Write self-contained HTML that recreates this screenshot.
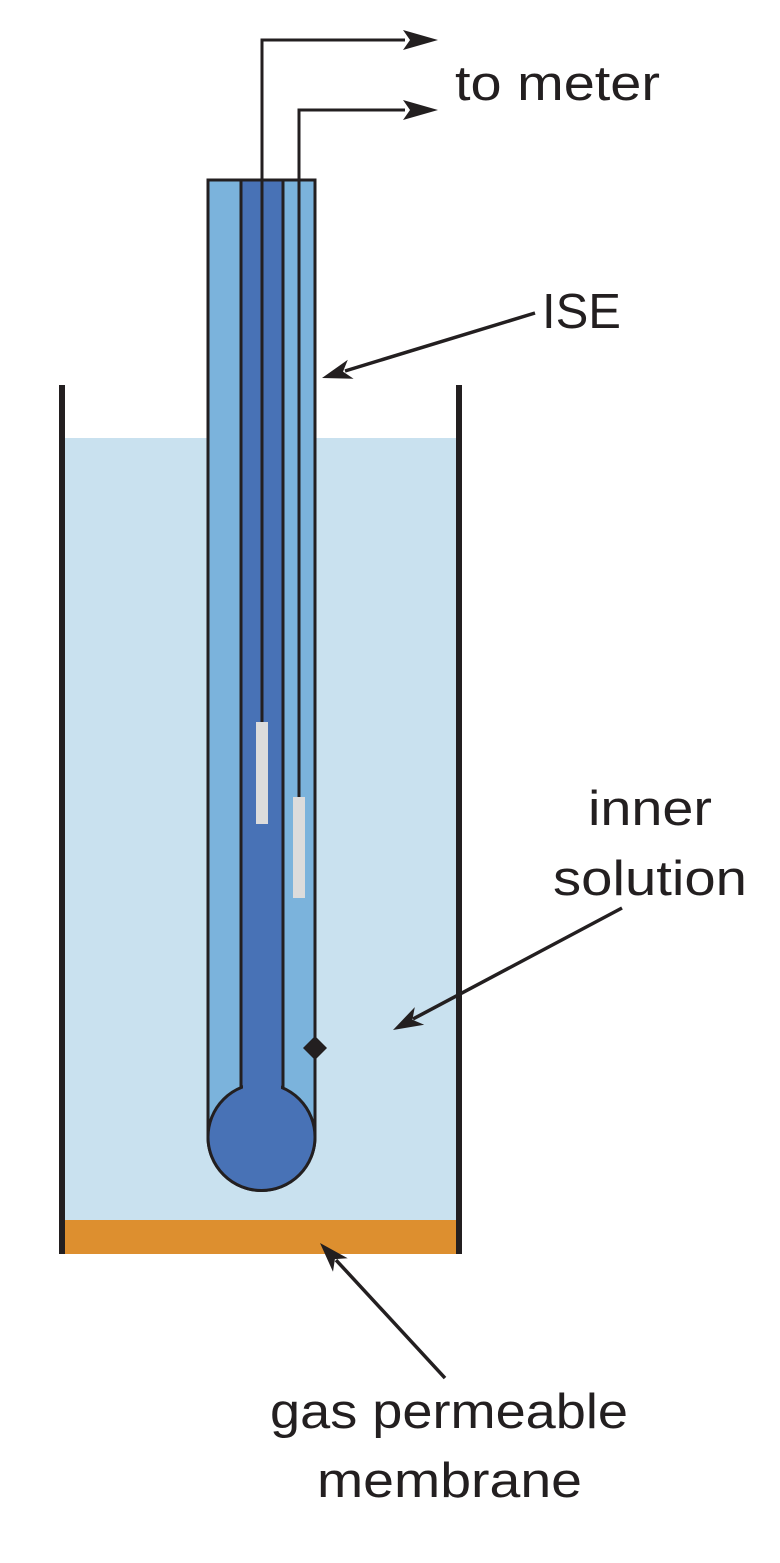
<!DOCTYPE html>
<html><head><meta charset="utf-8"><style>
html,body{margin:0;padding:0;background:#fff}
svg{display:block}
text{font-family:"Liberation Sans",sans-serif;fill:#231f20;font-size:49px}
</style></head><body>
<svg width="780" height="1563" viewBox="0 0 780 1563" xmlns="http://www.w3.org/2000/svg">
<rect x="64" y="438" width="394" height="782" fill="#c9e1ef"/>
<rect x="64" y="1220" width="394" height="34" fill="#dd8f2f"/>
<line x1="62" y1="385" x2="62" y2="1254" stroke="#231f20" stroke-width="6"/>
<line x1="459" y1="385" x2="459" y2="1254" stroke="#231f20" stroke-width="6"/>
<path d="M208,180 L315,180 L315,1137 A53.5,53.5 0 0 1 208,1137 Z" fill="#7bb3dc" stroke="#231f20" stroke-width="3"/>
<rect x="241" y="180" width="42" height="920" fill="#4872b6" stroke="#231f20" stroke-width="3"/>
<circle cx="261.5" cy="1137" r="53.5" fill="#4872b6" stroke="#231f20" stroke-width="3"/>
<rect x="243" y="1080" width="38" height="30" fill="#4872b6"/>
<polyline points="262,722 262,40 405,40" fill="none" stroke="#231f20" stroke-width="3"/>
<polyline points="299,797 299,110 405,110" fill="none" stroke="#231f20" stroke-width="3"/>
<polygon points="438,40 403,30 410,40 403,50" fill="#231f20"/>
<polygon points="438,110 403,100 410,110 403,120" fill="#231f20"/>
<rect x="256" y="722" width="12" height="102" fill="#dcdcdc"/>
<rect x="293" y="797" width="12" height="101" fill="#dcdcdc"/>
<polygon points="315,1036 327,1048 315,1060 303,1048" fill="#231f20"/>
<line x1="535" y1="313" x2="345" y2="371" stroke="#231f20" stroke-width="3.5"/>
<polygon points="322,378 353.6,378.8 343,371.6 347.8,359.7" fill="#231f20"/>
<line x1="622" y1="908" x2="413" y2="1019" stroke="#231f20" stroke-width="3.5"/>
<polygon points="393,1030 424.2,1024.7 412.4,1019.7 414.8,1007.1" fill="#231f20"/>
<line x1="445" y1="1378" x2="336" y2="1260" stroke="#231f20" stroke-width="3.5"/>
<polygon points="320,1243 347.7,1258.2 334.9,1259.1 333,1271.8" fill="#231f20"/>
<text x="455" y="100" textLength="205" lengthAdjust="spacingAndGlyphs">to meter</text>
<text x="542" y="328">ISE</text>
<text x="588" y="825" textLength="124" lengthAdjust="spacingAndGlyphs">inner</text>
<text x="553" y="895" textLength="194" lengthAdjust="spacingAndGlyphs">solution</text>
<text x="270" y="1428" textLength="358" lengthAdjust="spacingAndGlyphs">gas permeable</text>
<text x="317" y="1497" textLength="265" lengthAdjust="spacingAndGlyphs">membrane</text>
</svg>
</body></html>
